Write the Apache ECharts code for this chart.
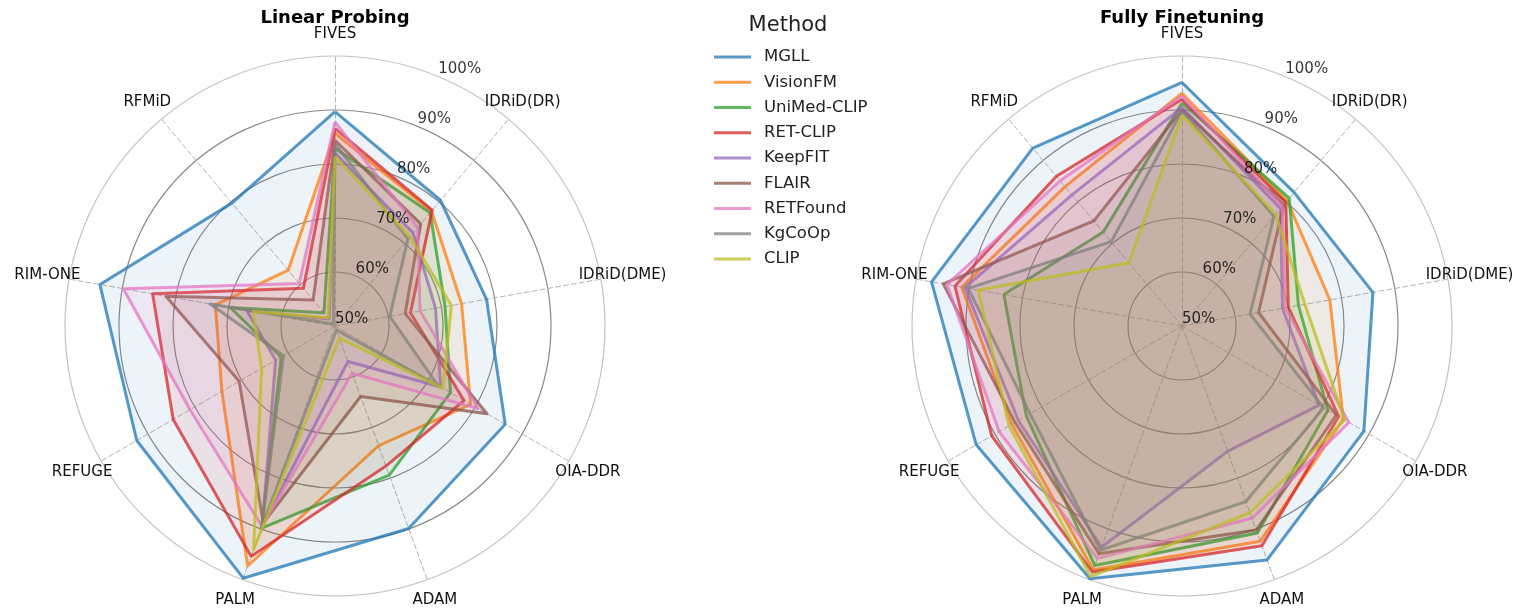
<!DOCTYPE html>
<html>
<head>
<meta charset="utf-8">
<script src="https://cdn.jsdelivr.net/npm/echarts@6/dist/echarts.min.js"></script>
<style>
  html, body { margin: 0; padding: 0; background: #fff; }
  #chart { width: 1515px; height: 608px; }
</style>
</head>
<body>
<div id="chart"></div>
<script>
// Benchmarks around the radar, listed clockwise from the top
const datasets = ['FIVES', 'IDRiD(DR)', 'IDRiD(DME)', 'OIA-DDR', 'ADAM', 'PALM', 'REFUGE', 'RIM-ONE', 'RFMiD'];
const methods = ['MGLL', 'VisionFM', 'UniMed-CLIP', 'RET-CLIP', 'KeepFIT', 'FLAIR', 'RETFound', 'KgCoOp', 'CLIP'];
const panelTitles = ['Linear Probing', 'Fully Finetuning'];
const ringTicks = [50, 60, 70, 80, 90, 100];
const ringLabels = ['50%', '60%', '70%', '80%', '90%', '100%'];
const palette = ['#1f77b4', '#ff7f0e', '#2ca02c', '#d62728', '#9467bd', '#8c564b', '#e377c2', '#7f7f7f', '#bcbd22'];

// Linear probing scores (%)
const lpMGLL     = [89.7, 80.4, 78.5, 86.4, 89.9, 99.7, 92.4, 94.2, 79.7];
const lpVisionFM = [85.7, 77.8, 73.8, 79.0, 73.6, 97.3, 74.2, 72.5, 63.5];
const lpUniMed   = [82.9, 77.4, 70.7, 74.7, 79.4, 89.9, 61.5, 69.7, 53.2];
const lpRETCLIP  = [86.6, 78.0, 64.2, 77.6, 77.6, 95.4, 84.6, 84.3, 59.1];
const lpKeepFIT  = [82.0, 72.5, 68.9, 72.6, 57.0, 89.3, 62.7, 66.6, 51.7];
const lpFLAIR    = [84.4, 74.7, 63.2, 82.5, 63.9, 88.8, 70.5, 81.8, 56.3];
const lpRETFound = [87.8, 73.8, 66.0, 80.6, 59.3, 89.5, 81.0, 89.8, 60.3];
const lpKgCoOp   = [83.8, 71.0, 60.3, 72.0, 50.8, 89.8, 61.0, 73.5, 50.5];
const lpCLIP     = [81.4, 71.6, 71.9, 73.1, 52.4, 94.1, 65.7, 65.4, 52.0];

// Full finetuning scores (%)
const ftMGLL     = [95.1, 82.3, 85.9, 88.9, 96.1, 99.8, 94.0, 97.1, 93.0];
const ftVisionFM = [93.1, 80.3, 77.8, 84.5, 92.4, 98.1, 86.4, 91.4, 83.7];
const ftUniMed   = [91.3, 80.9, 71.9, 81.2, 90.8, 97.2, 83.3, 83.5, 72.7];
const ftRETCLIP  = [92.0, 79.9, 70.0, 83.5, 93.3, 98.5, 90.7, 92.7, 86.2];
const ftKeepFIT  = [90.5, 78.4, 68.9, 79.3, 74.7, 93.6, 85.0, 90.8, 81.7];
const ftFLAIR    = [90.0, 79.3, 64.4, 83.0, 90.2, 94.9, 85.7, 94.9, 75.4];
const ftRETFound = [92.6, 78.9, 69.4, 85.7, 87.9, 95.8, 89.1, 94.2, 85.1];
const ftKgCoOp   = [89.8, 76.5, 62.8, 80.3, 84.6, 94.2, 82.5, 90.2, 70.4];
const ftCLIP     = [89.0, 77.0, 73.1, 84.8, 86.8, 99.4, 87.0, 88.3, 65.3];

const panelValues = [
  [lpMGLL, lpVisionFM, lpUniMed, lpRETCLIP, lpKeepFIT, lpFLAIR, lpRETFound, lpKgCoOp, lpCLIP],
  [ftMGLL, ftVisionFM, ftUniMed, ftRETCLIP, ftKeepFIT, ftFLAIR, ftRETFound, ftKgCoOp, ftCLIP]
];

// Layout
const FONT = '"DejaVu Sans", sans-serif';
const centersX = [335, 1182];
const CY = 326;
const R = 270;
const LABEL_ANGLE = 22.5;

function rgba(hex, a) {
  const n = parseInt(hex.slice(1), 16);
  return 'rgba(' + ((n >> 16) & 255) + ',' + ((n >> 8) & 255) + ',' + (n & 255) + ',' + a + ')';
}

// ECharts lays radar indicators out counter-clockwise; keep the first one on top
// and reverse the rest so the benchmarks run clockwise.
const order = [0].concat(datasets.map((_, i) => i).slice(1).reverse());
const reorder = arr => order.map(i => arr[i]);

const radars = centersX.map(cx => ({
  center: [cx, CY],
  radius: R,
  startAngle: 90,
  shape: 'circle',
  splitNumber: 5,
  indicator: order.map(i => ({ name: datasets[i], min: 50, max: 100 })),
  nameGap: 22,
  axisName: { color: '#111', fontSize: 15, fontFamily: FONT, align: 'center', verticalAlign: 'middle' },
  splitLine: { lineStyle: { color: ['#8a8a8a', '#8a8a8a', '#8a8a8a', '#8a8a8a', '#8a8a8a', '#c2c2c2'], width: 1.2 } },
  splitArea: { show: false },
  axisLine: { lineStyle: { color: '#b4b4b4', type: [5, 3], width: 1 } },
  axisTick: { show: false },
  axisLabel: { show: false }
}));

const series = [];
panelValues.forEach((vals, p) => {
  // ring percentages along a fixed bearing, beneath the method polygons
  series.push({
    type: 'scatter',
    coordinateSystem: 'polar',
    polarIndex: p,
    silent: true,
    symbolSize: 0.1,
    itemStyle: { color: 'rgba(0,0,0,0)' },
    data: ringTicks.map(t => [t, LABEL_ANGLE]),
    label: {
      show: true,
      position: [0, 0],
      align: 'left',
      verticalAlign: 'middle',
      offset: [0, -7],
      fontSize: 15,
      fontFamily: FONT,
      color: '#000',
      textBorderWidth: 0,
      formatter: prm => ringLabels[prm.dataIndex]
    }
  });
  vals.forEach((v, m) => {
    series.push({
      type: 'radar',
      radarIndex: p,
      name: methods[m],
      symbol: 'none',
      lineStyle: { color: rgba(palette[m], 0.75), width: 3 },
      itemStyle: { color: rgba(palette[m], 0.75) },
      areaStyle: { color: rgba(palette[m], 0.12) },
      data: [{ name: methods[m], value: reorder(v) }]
    });
  });
});

const option = {
  backgroundColor: '#fff',
  animation: false,
  radar: radars,
  polar: centersX.map(cx => ({ center: [cx, CY], radius: R })),
  angleAxis: centersX.map((_, p) => ({ polarIndex: p, type: 'value', min: 0, max: 360, startAngle: 90, clockwise: true, show: false })),
  radiusAxis: centersX.map((_, p) => ({ polarIndex: p, type: 'value', min: 50, max: 100, show: false })),
  legend: {
    orient: 'vertical',
    left: 709,
    top: 43,
    icon: 'rect',
    itemWidth: 37,
    itemHeight: 3,
    itemGap: 7.25,
    selectedMode: false,
    itemStyle: { borderWidth: 0 },
    textStyle: { fontSize: 16.5, fontFamily: FONT, color: '#222', lineHeight: 18, padding: [0, 0, 0, 8] },
    data: methods
  },
  graphic: [
    { type: 'text', x: centersX[0], y: 18, style: { text: panelTitles[0], font: 'bold 18px ' + FONT, fill: '#000', align: 'center', verticalAlign: 'middle' } },
    { type: 'text', x: centersX[1], y: 18, style: { text: panelTitles[1], font: 'bold 18px ' + FONT, fill: '#000', align: 'center', verticalAlign: 'middle' } },
    { type: 'text', x: 788, y: 26, style: { text: 'Method', font: '21px ' + FONT, fill: '#222', align: 'center', verticalAlign: 'middle' } }
  ],
  series: series
};

const chart = echarts.init(document.getElementById('chart'), null, { renderer: 'canvas' });
chart.setOption(option);
</script>
</body>
</html>
